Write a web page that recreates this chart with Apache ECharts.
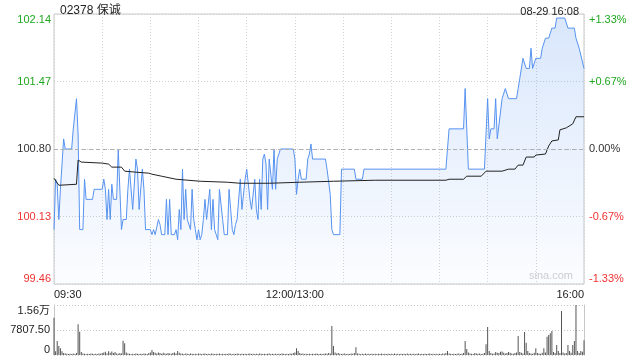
<!DOCTYPE html>
<html>
<head>
<meta charset="utf-8">
<script src="https://cdn.jsdelivr.net/npm/echarts@6/dist/echarts.min.js"></script>
<style>html,body{margin:0;padding:0;background:#fff}#c{width:640px;height:360px}</style>
</head>
<body>
<div id="c"></div>
<script>
const titleText = '02378 保诚';
const dateText = '08-29 16:08';
const prevClose = 100.80;
const priceTicks = ['99.46', '100.13', '100.80', '101.47', '102.14'];
const pctTicks = ['-1.33%', '-0.67%', '0.00%', '+0.67%', '+1.33%'];
const volTicks = ['0', '7807.50', '1.56万'];
const timeTickMinutes = [0, 150, 330];
const timeTickLabels = ['09:30', '12:00/13:00', '16:00'];

const priceMinutes = [0,1,2,3,4,5,6,7,11,12,13,14,15,16,18,19,20,24,25,30,31,32,33,34,35,36,37,39,40,41,42,43,45,46,47,48,49,50,51,52,53,55,56,57,60,61,62,63,65,66,67,69,70,71,72,73,75,76,77,78,79,80,81,82,83,84,85,86,87,88,89,90,91,92,93,94,95,96,97,98,99,100,101,102,103,104,105,106,108,109,110,111,112,113,114,115,116,117,118,119,120,121,122,123,125,126,127,128,129,130,131,132,133,134,135,136,137,138,139,140,141,149,150,151,152,153,154,157,158,159,160,161,169,170,171,172,173,174,178,179,187,188,192,193,244,246,255,256,258,268,270,271,272,274,275,276,277,279,281,282,283,288,289,290,292,294,296,297,298,300,303,304,306,308,310,312,313,318,320,324,325,327,330];
const prices = [100.00,100.50,100.45,100.10,100.40,100.40,100.90,100.80,100.80,101.00,101.00,101.30,100.95,100.00,100.00,100.50,100.30,100.30,100.40,100.40,100.50,100.40,100.10,100.40,100.10,100.45,100.30,100.30,100.80,100.80,100.00,100.10,100.10,100.40,100.60,100.60,100.20,100.20,100.70,100.60,100.20,100.60,100.40,100.00,100.00,99.95,100.00,99.95,100.10,100.05,99.95,99.95,100.30,99.95,100.30,99.95,99.95,100.00,99.90,100.20,100.00,100.60,100.10,100.40,100.10,100.10,100.00,100.40,100.10,100.00,99.90,100.00,99.90,99.95,100.10,100.30,100.10,100.10,100.40,100.00,100.30,100.00,99.95,99.90,100.40,100.40,100.10,99.95,99.95,100.40,100.20,100.00,99.95,100.05,100.10,100.10,100.50,100.20,100.20,100.50,100.60,100.60,100.30,100.20,100.50,100.20,100.10,100.50,100.20,100.70,100.75,100.65,100.20,100.70,100.70,100.40,100.80,100.40,100.70,100.70,100.80,100.80,100.70,100.35,100.50,100.60,100.50,100.50,100.70,100.75,100.85,100.70,100.70,100.60,100.60,100.35,100.00,99.95,99.95,100.60,100.60,100.50,100.50,100.60,100.60,101.00,101.00,101.40,100.60,100.60,101.30,100.90,101.00,101.00,101.30,100.90,100.90,101.30,101.40,101.40,101.30,101.30,101.40,101.50,101.70,101.60,101.60,101.80,101.60,101.70,101.70,101.80,101.90,101.90,102.00,102.00,102.10,102.10,102.00,102.00,101.90,101.80,101.60];

const avgMinutes = [0,1,3,14,15,17,30,34,36,42,44,51,59,61,67,76,91,108,116,134,153,174,200,244,246,255,257,266,269,279,283,287,289,292,294,299,300,306,308,310,314,315,319,323,325,330];
const avgPrices = [100.51,100.50,100.44,100.45,100.69,100.67,100.66,100.65,100.62,100.62,100.58,100.57,100.56,100.55,100.53,100.50,100.48,100.47,100.46,100.46,100.47,100.48,100.49,100.49,100.50,100.50,100.53,100.53,100.58,100.58,100.60,100.60,100.64,100.64,100.72,100.72,100.74,100.75,100.83,100.88,100.89,100.99,101.01,101.05,101.12,101.12];

const volumes = [
11650,1200,4370,2800,2100,1200,600,500,400,300,
400,300,500,300,600,9600,7300,900,500,400,
300,400,300,500,400,300,400,300,500,400,
600,800,1000,500,1200,700,1100,600,900,500,
400,600,500,4470,3640,800,500,400,300,400,
300,500,400,300,400,300,500,400,300,600,
800,1560,900,700,500,800,600,400,700,500,
400,600,500,400,600,800,500,1250,700,500,
400,300,500,400,300,500,400,300,400,300,
500,400,300,400,500,300,400,300,500,400,
300,400,300,500,300,400,300,400,300,500,
400,300,400,300,500,400,300,400,300,400,
300,400,500,300,400,300,400,300,500,400,
300,400,300,400,500,300,400,300,400,300,
400,300,500,400,300,400,300,500,400,600,
800,2080,1250,600,400,500,300,400,300,400,
300,400,300,500,400,300,400,300,400,500,
400,600,500,9060,2810,800,500,600,400,300,
400,500,300,400,300,500,400,600,2390,500,
400,300,400,300,500,300,400,300,400,300,
400,300,400,300,500,300,400,300,400,300,
400,300,500,300,400,300,400,300,400,300,
500,300,400,300,400,300,400,500,300,400,
300,400,300,400,500,300,400,300,400,300,
400,300,500,400,600,1250,500,400,300,400,
300,400,500,300,400,600,4370,1870,800,500,
400,300,600,500,400,500,300,400,600,3330,
8740,1250,600,400,500,900,700,600,1000,1100,
700,500,600,900,700,500,400,600,800,5930,
900,700,500,7180,3850,1250,600,500,400,700,
2080,600,500,400,700,2080,800,5720,6250,6770,
7500,900,600,3120,1250,600,13740,800,500,600,
3120,1250,700,3120,4370,15615,1250,600,1250,1000,
4580
];

const FONT = '"Liberation Sans", Arial, "Noto Sans CJK SC", sans-serif';
const GREEN = '#1fa81f';
const RED = '#f03232';
const DARK = '#333';
const range = 1.34;
const step = 0.67;
function tickIndex(v) { return Math.round((v + range) / step); }
function tickColor(v) {
  const i = tickIndex(Number(v));
  return i > 2 ? GREEN : (i < 2 ? RED : DARK);
}

const chart = echarts.init(document.getElementById('c'), null, {renderer: 'canvas'});
chart.setOption({
  animation: false,
  backgroundColor: '#fff',
  textStyle: {fontFamily: FONT},
  title: [
    {text: titleText, left: 55, top: 0, textStyle: {fontSize: 12, fontWeight: 'normal', color: '#222', fontFamily: FONT}},
    {text: dateText, right: 56, top: 1, textStyle: {fontSize: 11, fontWeight: 'normal', color: '#222', fontFamily: FONT}}
  ],
  grid: [
    {left: 54, right: 56, top: 14, height: 270, show: true, borderColor: '#c8c8c8', borderWidth: 1, backgroundColor: 'transparent'},
    {left: 54, right: 56, top: 305, height: 50}
  ],
  xAxis: [
    {
      type: 'value', gridIndex: 0, min: 0, max: 330, interval: 30,
      axisLine: {show: false}, axisTick: {show: false},
      splitLine: {show: true, lineStyle: {color: '#d4d4d4', type: [1, 2], width: 1}},
      axisLabel: {
        show: true, margin: 5, fontSize: 11, color: '#222', fontFamily: FONT,
        showMinLabel: true, showMaxLabel: true,
        alignMinLabel: 'left', alignMaxLabel: 'right',
        formatter: function (v) { const i = timeTickMinutes.indexOf(v); return i >= 0 ? timeTickLabels[i] : ''; }
      }
    },
    {
      type: 'value', gridIndex: 1, min: 0, max: 330, interval: 30,
      axisLine: {show: false}, axisTick: {show: false}, axisLabel: {show: false},
      splitLine: {show: false}
    }
  ],
  yAxis: [
    {
      type: 'value', gridIndex: 0, min: -range, max: range, interval: step,
      axisLine: {show: false}, axisTick: {show: false},
      splitLine: {show: true, lineStyle: {color: '#d0d0d0', type: [1, 2], width: 1}},
      axisLabel: {
        margin: 3, fontSize: 11, fontFamily: FONT,
        color: function (v) { return tickColor(v); },
        verticalAlignMinLabel: 'bottom', verticalAlignMaxLabel: 'top',
        formatter: function (v) { return priceTicks[tickIndex(v)]; }
      }
    },
    {
      type: 'value', gridIndex: 0, position: 'right', min: -range, max: range, interval: step,
      axisLine: {show: false}, axisTick: {show: false}, splitLine: {show: false},
      axisLabel: {
        margin: 5, fontSize: 11, fontFamily: FONT,
        color: function (v) { return tickColor(v); },
        verticalAlignMinLabel: 'bottom', verticalAlignMaxLabel: 'top',
        formatter: function (v) { return pctTicks[tickIndex(v)]; }
      }
    },
    {
      type: 'value', gridIndex: 1, min: 0, max: 15615, interval: 7807.5,
      axisLine: {show: true, lineStyle: {color: '#c8c8c8'}}, axisTick: {show: false},
      splitLine: {show: true, lineStyle: {color: '#c8c8c8', type: [1, 2], width: 1}},
      axisLabel: {
        margin: 4, fontSize: 11, color: '#222', fontFamily: FONT,
        verticalAlignMinLabel: 'bottom', verticalAlignMaxLabel: 'top',
        formatter: function (v) { return volTicks[Math.round(v / 7807.5)]; }
      }
    },
    {
      type: 'value', gridIndex: 1, position: 'right', min: 0, max: 15615,
      axisLine: {show: true, lineStyle: {color: '#c8c8c8'}}, axisTick: {show: false},
      axisLabel: {show: false}, splitLine: {show: false}
    }
  ],
  graphic: [
    {type: 'text', right: 67, top: 270, z: 1, silent: true,
     style: {text: 'sina.com', fill: '#cfcfcf', fontSize: 11, fontFamily: FONT}}
  ],
  series: [
    {
      type: 'line', xAxisIndex: 0, yAxisIndex: 0, showSymbol: false, z: 3,
      data: priceMinutes.map(function (m, i) { return [m, +(prices[i] - prevClose).toFixed(4)]; }),
      lineStyle: {color: '#5793f0', width: 1},
      areaStyle: {
        origin: 'start',
        color: new echarts.graphic.LinearGradient(0, 0, 0, 1, [
          {offset: 0, color: 'rgba(87,147,240,0.32)'},
          {offset: 1, color: 'rgba(87,147,240,0.03)'}
        ])
      },
      markLine: {
        silent: true, symbol: ['none', 'none'], label: {show: false},
        lineStyle: {color: '#b0b0b0', type: [4, 3], width: 1},
        data: [{yAxis: 0}]
      }
    },
    {
      type: 'line', xAxisIndex: 0, yAxisIndex: 0, showSymbol: false, z: 4,
      data: avgMinutes.map(function (m, i) { return [m, +(avgPrices[i] - prevClose).toFixed(4)]; }),
      lineStyle: {color: '#222', width: 1}
    },
    {
      type: 'bar', xAxisIndex: 1, yAxisIndex: 2, barWidth: 1,
      data: volumes.map(function (v, i) { return [i, v]; }),
      itemStyle: {color: '#555'}
    }
  ]
});
</script>
</body>
</html>
